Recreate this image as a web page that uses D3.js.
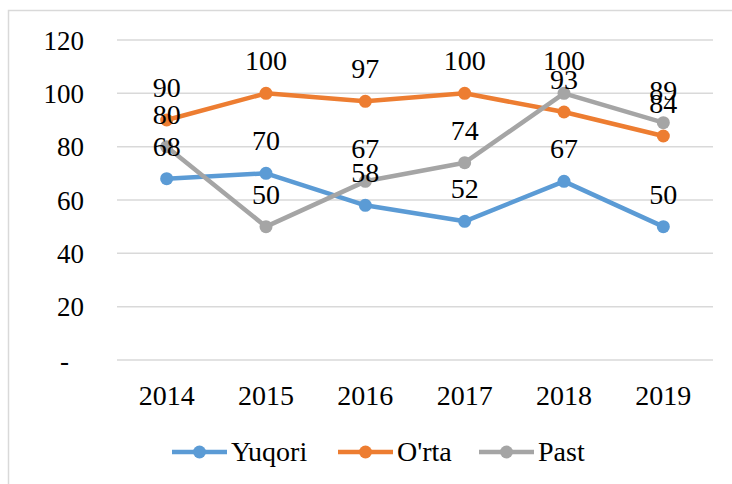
<!DOCTYPE html>
<html>
<head>
<meta charset="utf-8">
<script src="https://cdn.jsdelivr.net/npm/d3@7"></script>
<style>
  html, body { margin: 0; padding: 0; background: #fff; }
  svg { display: block; }
</style>
</head>
<body>
<svg id="chart" width="732" height="484" font-family="Liberation Serif"></svg>
<script>
// Categories and series
const years = ["2014", "2015", "2016", "2017", "2018", "2019"];
const yuqori = [68, 70, 58, 52, 67, 50];
const orta = [90, 100, 97, 100, 93, 84];
const past = [80, 50, 67, 74, 100, 89];
const seriesNames = ["Yuqori", "O'rta", "Past"];
const yTicks = [0, 20, 40, 60, 80, 100, 120];

const colors = ["#5B9BD5", "#ED7D31", "#A5A5A5"];
const seriesData = [yuqori, orta, past];
const FONT = "Liberation Serif";

const svg = d3.select("#chart");

// Chart frame
svg.append("rect")
  .attr("x", 8.5).attr("y", 10.5)
  .attr("width", 800).attr("height", 600)
  .attr("fill", "#fff")
  .attr("stroke", "#D9D9D9")
  .attr("stroke-width", 1.5);

const x = d3.scaleBand().domain(years).range([117, 713]);
const y = d3.scaleLinear().domain([0, 120]).range([360, 40]);
const cx = d => x(d) + x.bandwidth() / 2;

// Horizontal gridlines
svg.append("g")
  .selectAll("line")
  .data(yTicks)
  .join("line")
  .attr("x1", 117).attr("x2", 713)
  .attr("y1", d => y(d)).attr("y2", d => y(d))
  .attr("stroke", "#D9D9D9")
  .attr("stroke-width", 1.5);

// Y axis labels
const yAxis = svg.append("g")
  .attr("transform", "translate(84,0)")
  .call(d3.axisLeft(y).tickValues(yTicks).tickSize(0).tickPadding(0)
    .tickFormat(d => d === 0 ? "-" : d));
yAxis.attr("font-family", FONT).attr("font-size", 27);
yAxis.select(".domain").remove();
yAxis.selectAll("text")
  .attr("font-family", FONT)
  .attr("font-size", 27)
  .attr("fill", "#000")
  .attr("dy", "0.34em")
  .attr("dx", d => d === 0 ? -15 : 0);

// X axis labels
const xAxis = svg.append("g")
  .attr("transform", "translate(0,360)")
  .call(d3.axisBottom(x).tickSize(0).tickPadding(0));
xAxis.attr("font-family", FONT).attr("font-size", 28);
xAxis.select(".domain").remove();
xAxis.selectAll("text")
  .attr("font-family", FONT)
  .attr("font-size", 28)
  .attr("fill", "#000")
  .attr("dy", 0)
  .attr("y", 45);

const line = d3.line().x((d, i) => cx(years[i])).y(d => y(d));

// Lines and markers
seriesData.forEach((vals, s) => {
  const g = svg.append("g");
  g.append("path")
    .datum(vals)
    .attr("d", line)
    .attr("fill", "none")
    .attr("stroke", colors[s])
    .attr("stroke-width", 4.5)
    .attr("stroke-linejoin", "round");
  g.selectAll("circle")
    .data(vals)
    .join("circle")
    .attr("cx", (d, i) => cx(years[i]))
    .attr("cy", d => y(d))
    .attr("r", 6.5)
    .attr("fill", colors[s]);
});

// Value labels above each point
seriesData.forEach((vals, s) => {
  svg.append("g")
    .selectAll("text")
    .data(vals)
    .join("text")
    .attr("x", (d, i) => cx(years[i]))
    .attr("y", d => y(d) - 23)
    .attr("text-anchor", "middle")
    .attr("font-family", FONT)
    .attr("font-size", 28)
    .attr("fill", "#000")
    .text(d => d);
});

// Legend
const legendItems = [
  { name: seriesNames[0], x0: 172, color: colors[0] },
  { name: seriesNames[1], x0: 338, color: colors[1] },
  { name: seriesNames[2], x0: 479, color: colors[2] }
];
const lg = svg.append("g");
legendItems.forEach(item => {
  lg.append("line")
    .attr("x1", item.x0).attr("x2", item.x0 + 55)
    .attr("y1", 452).attr("y2", 452)
    .attr("stroke", item.color)
    .attr("stroke-width", 4.5);
  lg.append("circle")
    .attr("cx", item.x0 + 27.5).attr("cy", 452)
    .attr("r", 6.5)
    .attr("fill", item.color);
  lg.append("text")
    .attr("x", item.x0 + 59).attr("y", 461)
    .attr("font-family", FONT)
    .attr("font-size", 28)
    .attr("fill", "#000")
    .text(item.name);
});
</script>
</body>
</html>
